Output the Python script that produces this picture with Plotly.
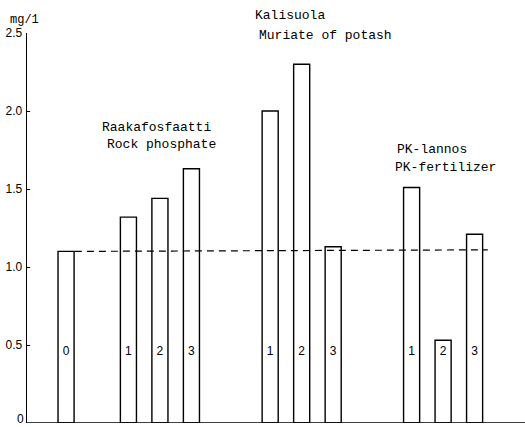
import plotly.graph_objects as go

# ---- data ----
bar_labels = ["0", "1", "2", "3", "1", "2", "3", "1", "2", "3"]
values = [1.10, 1.32, 1.44, 1.63, 2.00, 2.30, 1.13, 1.51, 0.53, 1.21]
reference_level = 1.10
y_ticks = [0, 0.5, 1.0, 1.5, 2.0, 2.5]
y_tick_text = ["0", "0.5", "1.0", "1.5", "2.0", "2.5"]
group_titles = [
    ("Raakafosfaatti", "Rock phosphate"),
    ("Kalisuola", "Muriate of potash"),
    ("PK-lannos", "PK-fertilizer"),
]
y_unit = "mg/1"

# ---- layout of bar slots (group start, bars per group) ----
group_starts = [1.24, 3.22, 7.72, 12.21]
group_sizes = [1, 3, 3, 3]
xpos = []
for s, n in zip(group_starts, group_sizes):
    xpos += [s + i for i in range(n)]

YMAX = 2.5
PLOT_H = 427 - 33 - 4
mono = "Liberation Mono"
sans = "Liberation Sans"

fig = go.Figure()
fig.add_trace(go.Bar(
    x=xpos, y=values, width=0.51,
    marker=dict(color="white", line=dict(color="black", width=1.4)),
    showlegend=False, hoverinfo="skip",
))
fig.add_trace(go.Scatter(
    x=xpos, y=[0.455] * len(xpos), mode="text", text=bar_labels,
    textfont=dict(family=sans, size=12, color="black"),
    showlegend=False, hoverinfo="skip",
))
fig.add_trace(go.Scatter(
    x=[1.52, 14.63], y=[reference_level, reference_level + 0.01], mode="lines",
    line=dict(color="black", width=1.2, dash="7px,5px"),
    showlegend=False, hoverinfo="skip",
))

title_pos = [
    ((2.32, 1.897), (2.48, 1.788)),
    ((7.17, 2.609), (7.30, 2.487)),
    ((11.68, 1.756), (11.62, 1.635)),
]
for (t1, t2), (p1, p2) in zip(group_titles, title_pos):
    for t, p in ((t1, p1), (t2, p2)):
        fig.add_annotation(x=p[0], y=p[1] / YMAX, xref="x", yref="paper",
                           text=t, showarrow=False,
                           xanchor="left", yanchor="middle",
                           font=dict(family=mono, size=13, color="black"))

fig.add_annotation(x=-0.006, y=2.585 / YMAX, xref="paper", yref="paper",
                   text=y_unit, showarrow=False,
                   xanchor="center", yanchor="middle",
                   font=dict(family=mono, size=12, color="black"))

# the bottom "0" tick label is drawn as an annotation so it stays inside the page
shown_tick_text = [t if v != 0 else "" for v, t in zip(y_ticks, y_tick_text)]
fig.add_annotation(x=0, y=-3.5 / PLOT_H, xref="paper", yref="paper",
                   text=y_tick_text[0], showarrow=False,
                   xanchor="right", yanchor="bottom", xshift=-2,
                   borderpad=0,
                   font=dict(family=sans, size=12, color="black"))

fig.update_layout(
    width=525, height=427,
    margin=dict(l=27, r=0, t=33, b=4, autoexpand=False),
    paper_bgcolor="white", plot_bgcolor="white",
    hovermode=False,
    xaxis=dict(range=[0, 15.81], showgrid=False, zeroline=False,
               showticklabels=False, ticks="", showline=False,
               fixedrange=True, automargin=False),
    yaxis=dict(range=[0, YMAX], tickvals=y_ticks, ticktext=shown_tick_text,
               showgrid=False, zeroline=False, showline=True,
               linecolor="black", linewidth=1.4, ticks="inside", ticklen=3,
               tickcolor="black", tickfont=dict(family=sans, size=12, color="black"),
               ticklabelstandoff=1,
               automargin=False, fixedrange=True),
    shapes=[dict(type="line", xref="paper", yref="y", x0=0, x1=1, y0=0, y1=0,
                 line=dict(color="black", width=1.4))],
)

fig.write_html("out.html", config={"displayModeBar": False, "staticPlot": True},
               post_script="document.body.style.margin='0';document.body.style.overflow='hidden';")
